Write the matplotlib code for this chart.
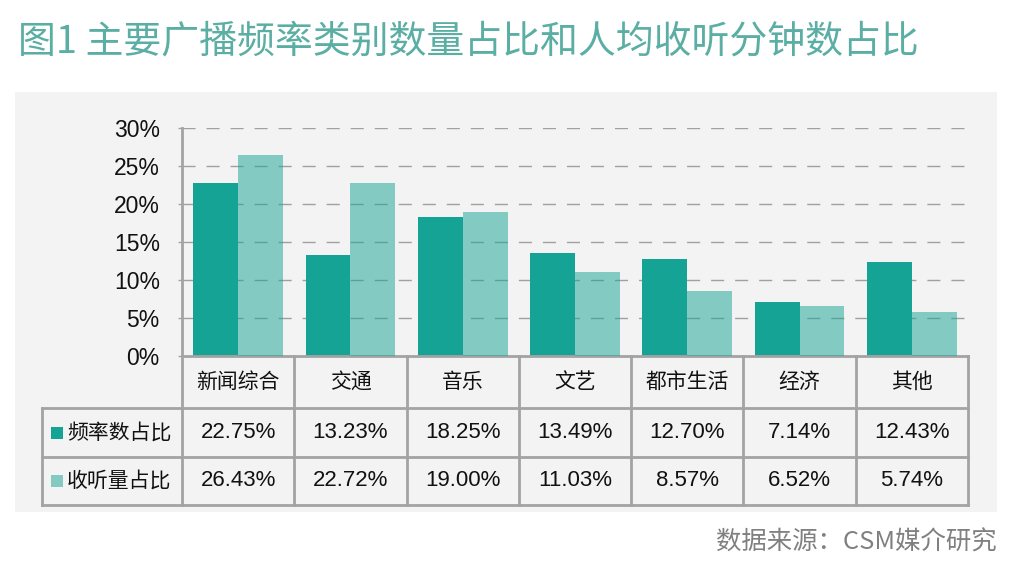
import matplotlib
matplotlib.use("Agg")
import matplotlib.pyplot as plt
from matplotlib import transforms
from matplotlib.patches import Rectangle
from matplotlib.lines import Line2D

plt.rcParams['font.family'] = ['Liberation Sans', 'Noto Sans CJK SC', 'DejaVu Sans']

categories = ["新闻综合", "交通", "音乐", "文艺", "都市生活", "经济", "其他"]
freq_share = [22.75, 13.23, 18.25, 13.49, 12.70, 7.14, 12.43]
listen_share = [26.43, 22.72, 19.00, 11.03, 8.57, 6.52, 5.74]
series_names = ["频率数占比", "收听量占比"]
yticks = [0, 5, 10, 15, 20, 25, 30]
title = "图1 主要广播频率类别数量占比和人均收听分钟数占比"
source = "数据来源：CSM媒介研究"

W, H = 1020, 588
DARK = "#14a394"
BG = "#f2f3f2"
BORDER = "#a3a3a3"

fig = plt.figure(figsize=(W / 100, H / 100), dpi=100)
fig.patch.set_facecolor("white")

def fy(py):
    return 1 - py / H

def fx(px):
    return px / W

# grey panel
fig.patches.append(Rectangle((fx(15), fy(512)), fx(997) - fx(15), fy(92) - fy(512),
                             transform=fig.transFigure, facecolor=BG, edgecolor="none", zorder=-5))

ax = fig.add_axes([fx(182), fy(356), fx(968) - fx(182), fy(128) - fy(356)])
ax.set_zorder(1)
ax.set_facecolor("none")
n = len(categories)
x = list(range(n))
bw = 0.4
ax.set_xlim(-0.5, n - 0.5)
ax.set_ylim(0, 30)

for yv in yticks[1:]:
    ax.axhline(yv, color="#a0a0a0", lw=1.0, dashes=(9.4, 7.9), zorder=1)

ax.bar([i - bw / 2 for i in x], freq_share, width=bw, color=DARK, zorder=2)
ax.bar([i + bw / 2 for i in x], listen_share, width=bw, color=DARK, alpha=0.5, lw=0, zorder=3)

ax.set_yticks(yticks)
ax.set_yticklabels([f"{v}%" for v in yticks], fontsize=16.5, color="#111111")
ax.tick_params(axis="y", length=3, width=1.0, color=BORDER, pad=13)
ax.set_xticks([])
for s in ["top", "right"]:
    ax.spines[s].set_visible(False)
ax.spines["left"].set_color(BORDER)
ax.spines["left"].set_linewidth(2)
ax.spines["bottom"].set_color(BORDER)
ax.spines["bottom"].set_linewidth(2)

# table
tr = transforms.blended_transform_factory(ax.transData, fig.transFigure)
y_top, y_h, y_r1, y_r2 = 356, 408, 457, 505
x_left_px = 42
x_left = -0.5 - (182 - x_left_px) / ((968 - 182) / n)

def hline(py, x0, x1):
    fig.lines.append(Line2D([x0, x1], [fy(py), fy(py)], transform=tr, color=BORDER, lw=2, zorder=5))

def vline(xd, py0, py1):
    fig.lines.append(Line2D([xd, xd], [fy(py0), fy(py1)], transform=tr, color=BORDER, lw=2, zorder=5))

for py in (y_h, y_r1, y_r2):
    hline(py, x_left, n - 0.5)
for k in range(n + 1):
    vline(k - 0.5, y_top, y_r2)
vline(x_left, y_h, y_r2)

for i, c in enumerate(categories):
    fig.text(i, fy((y_top + y_h) / 2), c, transform=tr, ha="center", va="center",
             fontsize=15, color="#111111", family=['Noto Sans CJK SC', 'DejaVu Sans'])
rows = [(freq_share, (y_h + y_r1) / 2), (listen_share, (y_r1 + y_r2) / 2)]
alphas = [1.0, 0.5]
for r, ((vals, pyc), name, a) in enumerate(zip(rows, series_names, alphas)):
    for i, v in enumerate(vals):
        fig.text(i, fy(pyc), f"{v:.2f}%", transform=tr, ha="center", va="center",
                 fontsize=16, color="#111111")
    fig.patches.append(Rectangle((fx(51), fy(pyc + 6)), fx(12), fy(0) - fy(12),
                                 transform=fig.transFigure, facecolor=DARK, alpha=a,
                                 edgecolor="none", zorder=6))
    fig.text(fx(67), fy(pyc), name, ha="left", va="center", fontsize=15,
             color="#111111", family=['Noto Sans CJK SC', 'DejaVu Sans'])

fig.text(fx(18), fy(42), title, ha="left", va="center", fontsize=27.3, color="#5aaea3",
         family=['Noto Sans CJK SC', 'DejaVu Sans'], fontweight="light")
fig.text(fx(997), fy(543), source, ha="right", va="center", fontsize=18.3, color="#808080",
         family=['Noto Sans CJK SC', 'DejaVu Sans'], fontweight="light")

fig.savefig("out.png", dpi=100, facecolor="white")
